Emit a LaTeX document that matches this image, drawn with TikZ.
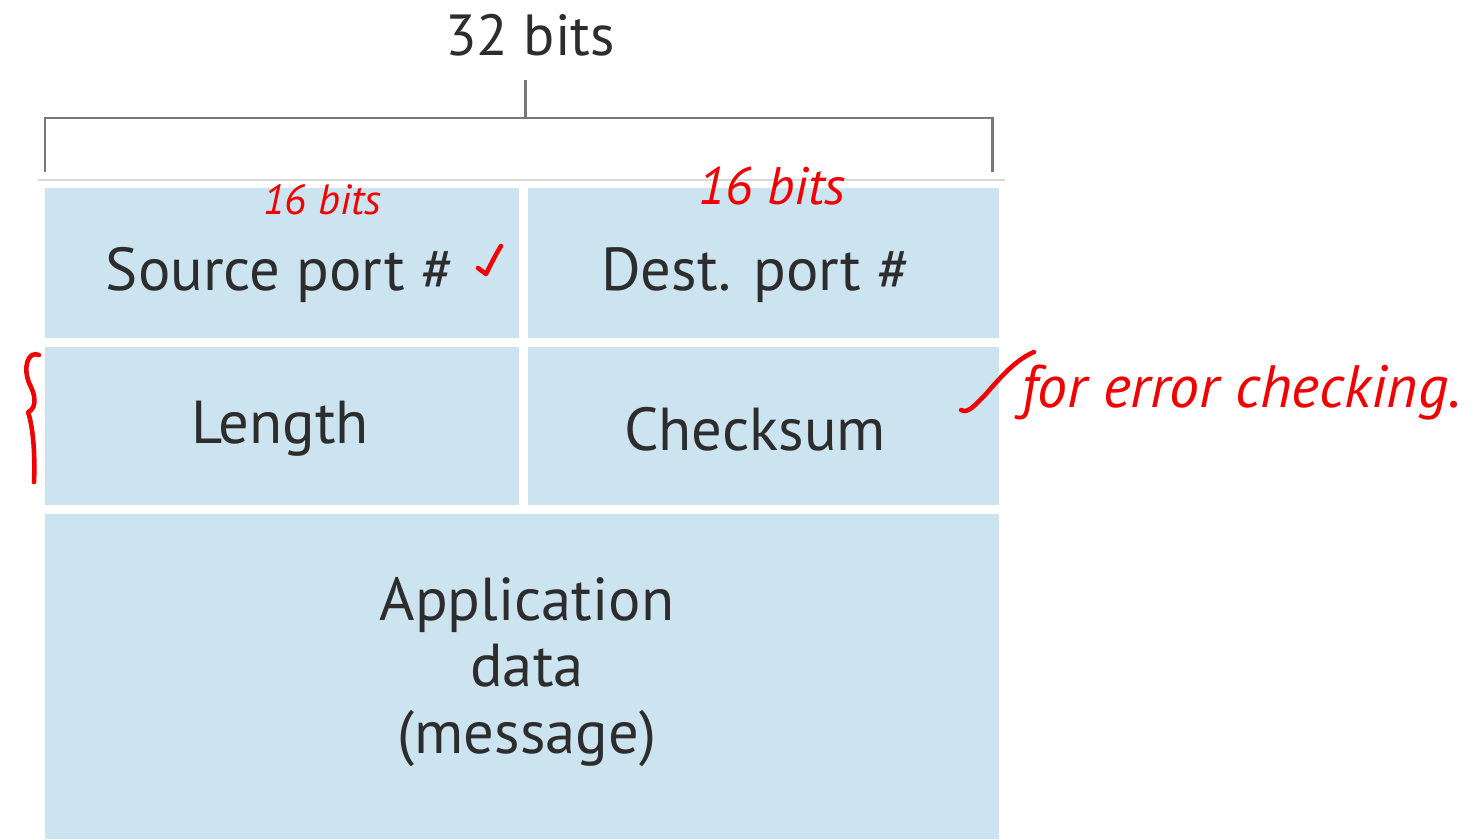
\documentclass[tikz,border=0pt]{standalone}
\usepackage{fontspec}
\setmainfont{PT Sans}
\usetikzlibrary{positioning}
\definecolor{cellblue}{RGB}{204,227,240}
\definecolor{textgray}{RGB}{45,45,45}
\definecolor{bracegray}{RGB}{120,120,120}
\definecolor{inkred}{RGB}{240,0,0}

\begin{document}
\begin{tikzpicture}[x=0.02cm,y=-0.02cm,
    field/.style={text=textgray,font=\fontsize{34.5}{38}\selectfont,align=center},
    note/.style={text=inkred,font=\itshape\fontsize{24}{28}\selectfont},
    ink/.style={inkred,line width=2.6pt,line cap=round,line join=round}]
            \useasboundingbox (0,0) rectangle (1473,839);
            % width bracket
            \node[field,font=\fontsize{33}{38}\selectfont] (width) at (530,35) {32 bits};
            \draw[bracegray,line width=1.7pt] (45,172)--(45,118)--(992,118)--(992,172);
            \draw[bracegray,line width=1.7pt] (525,80)--(525,118);
            \draw[black!15,line width=1pt] (38,180)--(1005,180);
            % header fields
            \fill[cellblue] (45,188) rectangle (519,338);
            \fill[cellblue] (528,188) rectangle (999,338);
            \fill[cellblue] (45,347) rectangle (519,505);
            \fill[cellblue] (528,347) rectangle (999,505);
            \fill[cellblue] (45,514) rectangle (999,839);
            \node[field] (src) at (280,275) {Source port \#};
            \node[field] (dst) at (756,275) {Dest. port \#};
            \node[field] (len) at (280,429) {Length};
            \node[field] (sum) at (755,429) {Checksum};
            \node[field] (data) at (527,672) {Application\\data\\(message)};
            % notes
            \node[note] (srcbits) at (322,200) {16 bits};
            \node[note,font=\itshape\fontsize{30}{34}\selectfont] (dstbits) at (772,186) {16 bits};
            \node[note,font=\itshape\fontsize{34}{38}\selectfont,anchor=west] (why) at (1015,393) {for error checking.};
            \draw[ink] (478,268)--(486,274)..controls (492,262) and (496,254)..(501,246);
            \draw[ink] (961,410)..controls (968,414) and (975,405)..(985,395)
                ..controls (1000,378) and (1015,360)..(1034,352);
            \draw[ink] (39,355)..controls (28,350) and (22,368)..(30,385)
                ..controls (38,400) and (34,410)..(28,412)
                ..controls (34,430) and (35,460)..(34,482);
\end{tikzpicture}
\end{document}
